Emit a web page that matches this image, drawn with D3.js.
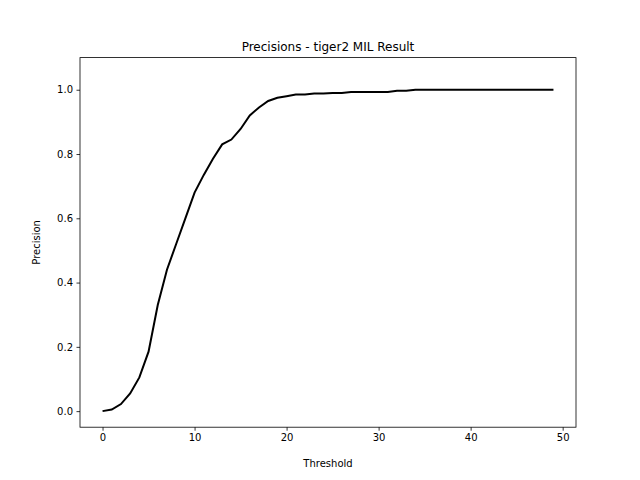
<!DOCTYPE html>
<html><head><meta charset="utf-8">
<script src="https://cdn.jsdelivr.net/npm/d3@7"></script>
<style>body{margin:0;background:#fff}text{font-family:"DejaVu Sans",sans-serif}</style>
</head><body>
<script>
const thresholds = d3.range(0, 50);
const precision = [0,0.005,0.022,0.055,0.105,0.185,0.33,0.44,0.52,0.60,
0.68,0.735,0.785,0.83,0.845,0.878,0.92,0.945,0.965,0.975,
0.98,0.985,0.985,0.988,0.988,0.99,0.99,0.993,0.993,0.993,
0.993,0.993,0.997,0.997,1,1,1,1,1,1,
1,1,1,1,1,1,1,1,1,1];
const xTicks = [0,10,20,30,40,50];
const yTicks = [0,0.2,0.4,0.6,0.8,1.0];
const W=640,H=480,L=80,R=576,T=57.6,B=427.2;
const svg=d3.select("body").append("svg").attr("width",W).attr("height",H);
const x=d3.scaleLinear().domain([-2.45,51.45]).range([L,R]);
const y=d3.scaleLinear().domain([-0.05,1.1]).range([B,T]);
svg.append("path").datum(thresholds.map((t,i)=>[t,precision[i]]))
 .attr("fill","none").attr("stroke","#000").attr("stroke-width",2)
 .attr("d",d3.line().x(d=>x(d[0])).y(d=>y(d[1])));
const xa=svg.append("g").attr("transform",`translate(0,${B})`)
 .call(d3.axisBottom(x).tickValues(xTicks).tickSize(3.5).tickPadding(3.5).tickFormat(d3.format("d")));
const ya=svg.append("g").attr("transform",`translate(${L},0)`)
 .call(d3.axisLeft(y).tickValues(yTicks).tickSize(3.5).tickPadding(3.5).tickFormat(d3.format(".1f")));
[xa,ya].forEach(a=>{a.select(".domain").remove();a.selectAll("text").attr("font-size",10).attr("fill","#000");a.selectAll("line").attr("stroke","#000").attr("stroke-width",0.8);});
svg.append("rect").attr("x",L).attr("y",T).attr("width",R-L).attr("height",B-T)
 .attr("fill","none").attr("stroke","#000").attr("stroke-width",0.8);
svg.append("text").attr("x",(L+R)/2).attr("y",T-7).attr("text-anchor","middle").attr("font-size",12).text("Precisions - tiger2 MIL Result");
svg.append("text").attr("x",(L+R)/2).attr("y",467).attr("text-anchor","middle").attr("font-size",10).text("Threshold");
svg.append("text").attr("transform",`translate(40,${(T+B)/2}) rotate(-90)`).attr("text-anchor","middle").attr("font-size",10).text("Precision");
</script>
</body></html>
